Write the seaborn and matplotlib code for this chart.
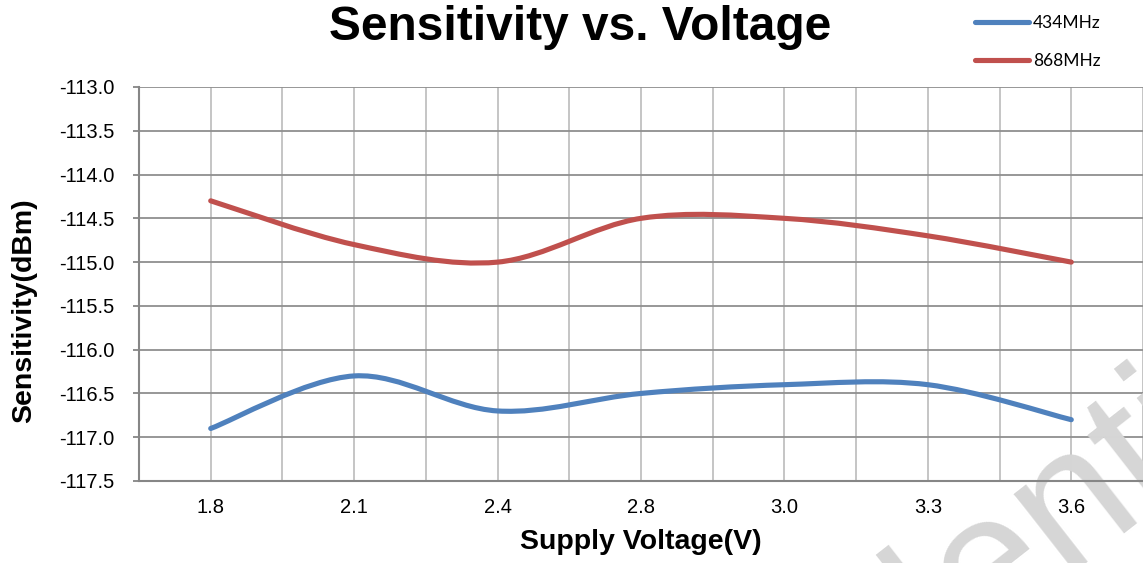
import numpy as np
import pandas as pd
import seaborn as sns
import matplotlib
matplotlib.use("Agg")
import matplotlib.pyplot as plt
from matplotlib.path import Path
from matplotlib.patches import PathPatch
from matplotlib.lines import Line2D
from matplotlib.ticker import FuncFormatter

# data
voltages = ["1.8", "2.1", "2.4", "2.8", "3.0", "3.3", "3.6"]
sens_434 = [-116.9, -116.3, -116.7, -116.5, -116.4, -116.4, -116.8]
sens_868 = [-114.3, -114.8, -115.0, -114.5, -114.5, -114.7, -115.0]
bands = ["434MHz", "868MHz"]
colors = ["#4F81BD", "#C0504D"]

df = pd.DataFrame({
    "Voltage": voltages * 2,
    "Sensitivity": sens_434 + sens_868,
    "Band": [bands[0]] * len(voltages) + [bands[1]] * len(voltages),
})

sns.set_theme(style="white")
plt.rcParams["font.family"] = ["Liberation Sans", "DejaVu Sans"]
plt.rcParams["text.color"] = "black"
plt.rcParams["axes.labelcolor"] = "black"
plt.rcParams["xtick.color"] = "black"
plt.rcParams["ytick.color"] = "black"

W, H = 1143, 563
fig = plt.figure(figsize=(W / 100, H / 100), dpi=100)
ax = fig.add_axes([139 / W, 1 - 481 / H, 1 - 139 / W, (481 - 87) / H])

sns.lineplot(data=df, x="Voltage", y="Sensitivity", hue="Band", hue_order=bands,
             palette=colors, sort=False, legend=False, ax=ax)


def smooth_path(xy):
    # Excel-like smoothed line: Catmull-Rom segments drawn as cubic Beziers
    pts = np.vstack([xy[0], xy, xy[-1]])
    verts = [pts[1]]
    codes = [Path.MOVETO]
    for i in range(1, len(pts) - 2):
        p0, p1, p2, p3 = pts[i - 1], pts[i], pts[i + 1], pts[i + 2]
        verts += [p1 + (p2 - p0) / 6, p2 - (p3 - p1) / 6, p2]
        codes += [Path.CURVE4] * 3
    return Path(verts, codes)


# replace seaborn's straight segments with smoothed curves
for line, c in zip(list(ax.lines), colors):
    xy = line.get_xydata()
    line.set_visible(False)
    ax.add_patch(PathPatch(smooth_path(xy), facecolor="none", edgecolor=c,
                           lw=3.7, capstyle="round", joinstyle="round", zorder=3))

ax.set_xlim(-0.5, len(voltages) - 0.5)
ax.set_ylim(-117.5, -113.0)
ax.set_xticks(range(len(voltages)))
ax.set_xticklabels(voltages)
ax.set_xticks(np.arange(-0.5, len(voltages), 1.0), minor=True)
ax.set_yticks(np.arange(-117.5, -112.99, 0.5))
ax.yaxis.set_major_formatter(FuncFormatter(lambda v, p: f"{v:.1f}"))

ax.set_axisbelow(True)
ax.grid(axis="x", which="both", color="#c0c0c0", lw=1.3)
ax.grid(axis="y", which="major", color="#8f8f8f", lw=1.3)

sns.despine(ax=ax, top=True, right=True)
for s in ["left", "bottom"]:
    ax.spines[s].set_color("#868686")
    ax.spines[s].set_linewidth(1.5)

ax.tick_params(axis="x", which="both", length=0, pad=12, labelsize=14.5, labelcolor="black")
ax.tick_params(axis="y", length=4.5, width=1.3, color="#868686", pad=13,
               labelsize=14.5, labelcolor="black", left=True)

ax.set_xlabel("Supply Voltage(V)", fontsize=20.5, fontweight="bold", va="center")
ax.xaxis.set_label_coords(0.5, -0.155)
ax.set_ylabel("Sensitivity(dBm)", fontsize=20.5, fontweight="bold", va="center")
ax.yaxis.set_label_coords(-0.1145, 0.431)

fig.text(580 / W, 1 - 28 / H, "Sensitivity vs. Voltage", fontsize=34.5,
         fontweight="bold", ha="center", va="center")

handles = [Line2D([], [], color=c, lw=3.7, solid_capstyle="round") for c in colors]
fig.legend(handles, bands, loc="upper left", bbox_to_anchor=(966 / W, 1 - 6 / H),
           frameon=False, borderpad=0, handlelength=3.15, handletextpad=0.2,
           labelspacing=1.3, prop={"family": "Lato", "size": 12.5})

# watermark, behind the data lines
ax.text(915 / W, 1 - 628 / H, "Confidential", transform=fig.transFigure,
        fontsize=135, rotation=38, color="#d6d6d6", ha="center", va="center",
        zorder=2.5, clip_on=False)

fig.savefig("out.png", dpi=100)
